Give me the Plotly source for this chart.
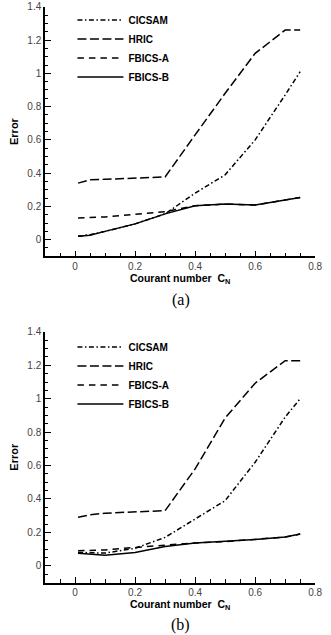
import plotly.graph_objects as go

# ---------------- data ----------------
cn = [0.01, 0.05, 0.1, 0.2, 0.3, 0.4, 0.5, 0.6, 0.7, 0.75]

cicsam_a = [0.02, 0.03, 0.05, 0.095, 0.155, 0.28, 0.39, 0.60, 0.87, 1.01]
hric_a = [0.34, 0.36, 0.363, 0.37, 0.377, 0.63, 0.88, 1.12, 1.26, 1.26]
fbicsA_a = [0.13, 0.133, 0.137, 0.152, 0.168, 0.204, 0.214, 0.208, 0.238, 0.254]
fbicsB_a = [0.02, 0.027, 0.05, 0.095, 0.155, 0.204, 0.214, 0.208, 0.238, 0.254]

cicsam_b = [0.08, 0.077, 0.076, 0.105, 0.17, 0.28, 0.39, 0.62, 0.89, 1.0]
hric_b = [0.29, 0.305, 0.315, 0.322, 0.33, 0.58, 0.885, 1.093, 1.228, 1.228]
fbicsA_b = [0.09, 0.092, 0.095, 0.11, 0.125, 0.137, 0.145, 0.157, 0.172, 0.19]
fbicsB_b = [0.075, 0.068, 0.063, 0.08, 0.115, 0.137, 0.145, 0.157, 0.172, 0.19]

names = ["CICSAM", "HRIC", "FBICS-A", "FBICS-B"]
dashes = ["5px,2.5px,1.5px,2.5px", "9px,3.5px", "6.5px,5px", "solid"]
panels = [
    ("a", [cicsam_a, hric_a, fbicsA_a, fbicsB_a]),
    ("b", [cicsam_b, hric_b, fbicsA_b, fbicsB_b]),
]
x_ticks = [0, 0.2, 0.4, 0.6, 0.8]
x_ticklabels = ["0", "0.2", "0.4", "0.6", "0.8"]
y_ticks = [0, 0.2, 0.4, 0.6, 0.8, 1.0, 1.2, 1.4]
y_ticklabels = ["0", "0.2", "0.4", "0.6", "0.8", "1", "1.2", "1.4"]

# ---------------- figure ----------------
W, H = 331, 635
fig = go.Figure()

FONT = "Liberation Sans, Arial, sans-serif"
x_dom = [46 / W, 322 / W]
y_doms = [[1 - 252.7 / H, 1 - 0.8 / H], [1 - 582 / H, 1 - 329 / H]]
legend_tops = [1 + 0.5 / H, 1 - 329.5 / H]
caption_y = [1 - 296.7 / H, 1 - 625 / H]

for i, (tag, series) in enumerate(panels):
    xa = "x" if i == 0 else "x2"
    ya = "y" if i == 0 else "y2"
    lg = "legend" if i == 0 else "legend2"
    for name, ys, dash in zip(names, series, dashes):
        fig.add_trace(go.Scatter(
            x=cn, y=ys, mode="lines", name="<b>%s</b>" % name,
            line=dict(color="black", width=1.5, dash=dash),
            xaxis=xa, yaxis=ya, legend=lg, showlegend=True,
        ))

axis_common = dict(
    showline=True, linecolor="black", linewidth=1.5,
    showgrid=False, zeroline=False, mirror=False,
    ticks="inside", ticklen=6, tickwidth=1.2, tickcolor="black",
    tickfont=dict(family=FONT, size=10, color="#444"),
    minor=dict(ticks="inside", ticklen=3.5, tickwidth=1.2, tickcolor="black", dtick=0.05),
)

layout = dict(
    width=W, height=H,
    margin=dict(l=0, r=0, t=0, b=0),
    paper_bgcolor="white", plot_bgcolor="white",
    showlegend=True,
)

for i in range(2):
    sfx = "" if i == 0 else "2"
    layout["xaxis" + sfx] = dict(
        axis_common,
        domain=x_dom, range=[-0.1, 0.8],
        tickmode="array", tickvals=x_ticks, ticktext=x_ticklabels,
        anchor="y" + sfx,
        title=dict(text="<b>Courant number  C<sub>N</sub></b>",
                   font=dict(family=FONT, size=10.5, color="black"), standoff=2),
    )
    layout["yaxis" + sfx] = dict(
        axis_common,
        domain=y_doms[i], range=[-0.1, 1.4],
        tickmode="array", tickvals=y_ticks, ticktext=y_ticklabels,
        anchor="x" + sfx,
        title=dict(text="<b>Error</b>",
                   font=dict(family=FONT, size=11, color="black"), standoff=7),
    )
    layout["legend" + sfx] = dict(
        x=74 / W, y=legend_tops[i], xanchor="left", yanchor="top",
        bgcolor="rgba(0,0,0,0)", borderwidth=0, tracegroupgap=0,
        itemwidth=46,
        font=dict(family=FONT, size=10, color="black"),
    )

fig.update_layout(**layout)

for i, (tag, _) in enumerate(panels):
    fig.add_annotation(
        text="(%s)" % tag, xref="paper", yref="paper",
        x=184.7 / W, y=caption_y[i], xanchor="center", yanchor="middle",
        showarrow=False, font=dict(family="Liberation Serif, Times New Roman, serif", size=16, color="black"),
    )

fig.write_html("out.html")
